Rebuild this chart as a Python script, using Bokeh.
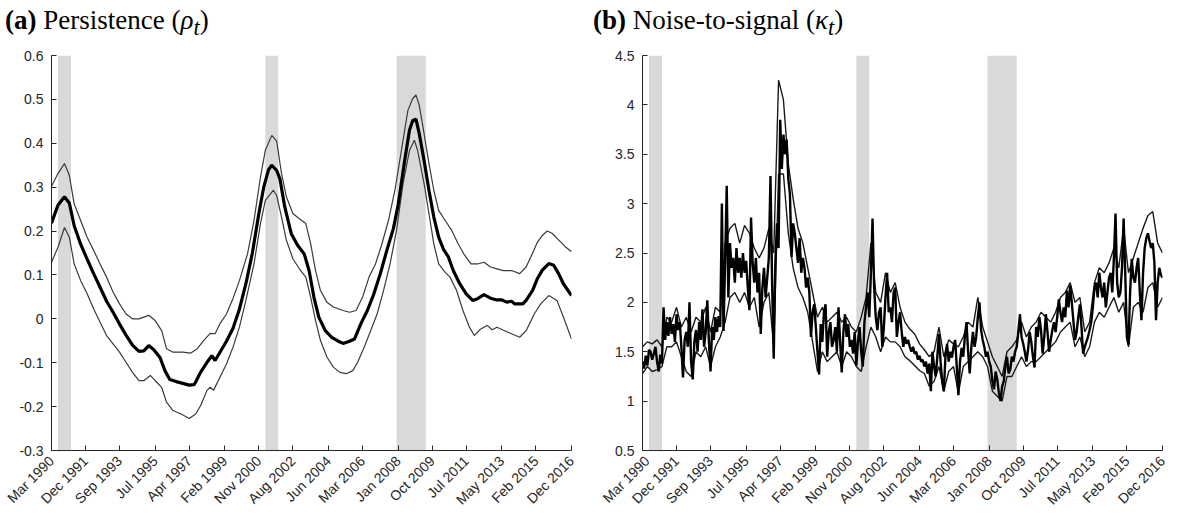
import math
from bokeh.plotting import figure
from bokeh.models import Range1d, FixedTicker, PrintfTickFormatter, BoxAnnotation, Div
from bokeh.layouts import row, column
from bokeh.embed import file_html
from bokeh.resources import INLINE

# ---------------- data ----------------
MONTH_NAMES = ["Jan", "Feb", "Mar", "Apr", "May", "Jun",
               "Jul", "Aug", "Sep", "Oct", "Nov", "Dec"]

tick_labels = ["Mar 1990", "Dec 1991", "Sep 1993", "Jul 1995", "Apr 1997",
               "Feb 1999", "Nov 2000", "Aug 2002", "Jun 2004", "Mar 2006",
               "Jan 2008", "Oct 2009", "Jul 2011", "May 2013", "Feb 2015",
               "Dec 2016"]

recessions = [("Jul 1990", "Mar 1991"), ("Mar 2001", "Nov 2001"),
              ("Dec 2007", "Jun 2009")]

rho_yticks = [-0.3, -0.2, -0.1, 0.0, 0.1, 0.2, 0.3, 0.4, 0.5, 0.6]
kappa_yticks = [0.5, 1.0, 1.5, 2.0, 2.5, 3.0, 3.5, 4.0, 4.5]

# months since Mar 1990
rho_mid_m = [0, 4, 8, 11, 14, 18, 22, 26, 30, 34, 38, 42, 46, 50, 54, 57, 60,
             63, 67, 70, 73, 77, 81, 85, 88, 89, 92, 96, 99, 101, 104, 108,
             112, 116, 120, 124, 128, 131, 134, 136, 139, 141, 144, 148, 152,
             156, 159, 162, 165, 169, 173, 177, 180, 184, 187, 191, 195, 199,
             203, 207, 211, 214, 218, 221, 223, 225, 227, 230, 233, 236, 239,
             242, 245, 248, 252, 256, 260, 263, 267, 271, 275, 278, 281, 284,
             286, 291, 293, 297, 300, 303, 307, 310, 313, 316, 321]
rho_mid = [0.218, 0.259, 0.278, 0.264, 0.212, 0.170, 0.136, 0.103, 0.072,
           0.040, 0.015, -0.012, -0.037, -0.060, -0.074, -0.073, -0.061,
           -0.070, -0.088, -0.118, -0.138, -0.143, -0.147, -0.151, -0.150,
           -0.144, -0.122, -0.099, -0.084, -0.095, -0.076, -0.051, -0.022,
           0.022, 0.080, 0.150, 0.240, 0.300, 0.340, 0.350, 0.338, 0.319,
           0.255, 0.194, 0.167, 0.148, 0.110, 0.049, 0.004, -0.027, -0.042,
           -0.051, -0.056, -0.051, -0.046, -0.011, 0.019, 0.057, 0.103, 0.156,
           0.205, 0.260, 0.360, 0.430, 0.452, 0.455, 0.422, 0.361, 0.293,
           0.232, 0.186, 0.158, 0.141, 0.110, 0.080, 0.057, 0.042, 0.046,
           0.055, 0.047, 0.043, 0.043, 0.038, 0.040, 0.034, 0.034, 0.042,
           0.065, 0.092, 0.111, 0.126, 0.122, 0.103, 0.080, 0.053]

rho_hi_m = [0, 4, 8, 11, 14, 18, 22, 26, 30, 34, 38, 42, 46, 50, 54, 60, 64,
            68, 71, 75, 81, 86, 90, 94, 98, 101, 104, 108, 112, 116, 121, 125,
            129, 132, 136, 139, 142, 145, 149, 153, 157, 160, 163, 166, 170,
            174, 180, 184, 188, 192, 196, 200, 204, 208, 212, 216, 220, 223,
            225, 227, 230, 233, 236, 239, 243, 247, 251, 255, 259, 263, 267,
            271, 275, 279, 284, 289, 293, 297, 300, 303, 306, 309, 313, 317,
            321]
rho_hi = [0.302, 0.331, 0.354, 0.327, 0.262, 0.224, 0.186, 0.156, 0.125,
          0.095, 0.061, 0.034, 0.011, 0.000, 0.000, 0.008, -0.004, -0.027,
          -0.068, -0.076, -0.076, -0.078, -0.068, -0.049, -0.033, -0.034,
          -0.011, 0.011, 0.046, 0.087, 0.148, 0.224, 0.323, 0.384, 0.418,
          0.405, 0.331, 0.278, 0.240, 0.228, 0.217, 0.171, 0.110, 0.065,
          0.038, 0.027, 0.019, 0.015, 0.019, 0.049, 0.095, 0.125, 0.171,
          0.224, 0.293, 0.384, 0.475, 0.502, 0.510, 0.487, 0.422, 0.354,
          0.293, 0.247, 0.224, 0.202, 0.171, 0.145, 0.125, 0.125, 0.129,
          0.118, 0.114, 0.110, 0.110, 0.103, 0.118, 0.150, 0.175, 0.190,
          0.200, 0.195, 0.180, 0.165, 0.153]

rho_lo_m = [0, 4, 8, 11, 14, 18, 22, 26, 30, 34, 38, 42, 46, 50, 54, 57, 61,
            64, 68, 71, 75, 80, 85, 89, 92, 96, 98, 100, 104, 108, 112, 116,
            120, 125, 129, 132, 137, 139, 142, 145, 149, 153, 157, 160, 163,
            166, 170, 174, 178, 182, 186, 189, 193, 197, 201, 205, 209, 213,
            217, 221, 224, 226, 230, 233, 236, 239, 243, 246, 250, 254, 258,
            261, 265, 269, 272, 275, 279, 284, 289, 293, 298, 302, 307, 312,
            316, 321]
rho_lo = [0.129, 0.163, 0.208, 0.186, 0.125, 0.087, 0.057, 0.023, -0.008,
          -0.038, -0.057, -0.076, -0.099, -0.122, -0.141, -0.141, -0.129,
          -0.141, -0.156, -0.190, -0.209, -0.217, -0.227, -0.217, -0.198,
          -0.163, -0.156, -0.163, -0.133, -0.103, -0.065, -0.019, 0.042,
          0.125, 0.217, 0.270, 0.293, 0.281, 0.232, 0.179, 0.137, 0.114,
          0.095, 0.049, -0.004, -0.049, -0.087, -0.110, -0.122, -0.125,
          -0.118, -0.099, -0.065, -0.027, 0.011, 0.065, 0.125, 0.202, 0.308,
          0.384, 0.407, 0.384, 0.308, 0.240, 0.171, 0.125, 0.106, 0.095,
          0.065, 0.019, -0.019, -0.038, -0.023, -0.015, -0.025, -0.019,
          -0.026, -0.034, -0.042, -0.027, 0.011, 0.034, 0.053, 0.042, 0.004,
          -0.046]

# noise-to-signal, monthly from Mar 1990
kappa_mid = [
    1.40, 1.33, 1.46, 1.36, 1.52, 1.50, 1.42, 1.48, 1.55, 1.40,
    1.30, 1.47, 1.38, 1.95, 1.62, 1.80, 1.66, 1.85, 1.68, 1.78,
    1.60, 1.88, 1.72, 1.80, 1.55, 1.24, 1.62, 1.70, 1.55, 2.00,
    1.40, 1.22, 1.60, 1.72, 1.50, 1.80, 1.62, 1.93, 1.55, 1.70,
    2.02, 1.60, 1.30, 1.75, 1.62, 1.85, 1.70, 1.86, 1.75, 3.00,
    1.71, 2.40, 3.18, 2.05, 2.60, 2.35, 2.45, 2.20, 2.55, 2.30,
    2.45, 2.25, 2.50, 2.30, 2.42, 2.15, 1.92, 2.86, 2.40, 2.20,
    2.45, 2.10, 2.30, 1.68, 2.15, 2.35, 2.05, 2.25, 2.45, 3.28,
    2.20, 1.43, 2.40, 2.80, 2.55, 3.85, 3.35, 3.70, 3.50, 3.65,
    3.25, 3.10, 2.46, 2.80, 2.70, 2.55, 2.40, 2.65, 2.30, 2.45,
    2.35, 2.15, 2.25, 2.10, 1.65, 1.90, 1.98, 1.75, 1.50, 1.27,
    1.78, 1.60, 1.90, 1.98, 1.45, 1.70, 1.80, 1.55, 1.62, 1.75,
    1.50, 1.95, 1.60, 1.29, 1.70, 1.88, 1.65, 1.78, 1.55, 1.62,
    1.48, 1.70, 1.36, 1.60, 1.75, 1.50, 1.35, 1.80, 1.95, 2.10,
    1.85, 2.30, 2.85, 2.15, 1.85, 1.72, 1.90, 1.95, 1.55, 1.75,
    2.05, 2.30, 1.90, 1.95, 1.80, 2.10, 2.15, 1.65, 1.80, 1.90,
    1.70, 1.55, 1.65, 1.58, 1.62, 1.55, 1.50, 1.55, 1.48, 1.50,
    1.42, 1.46, 1.40, 1.42, 1.35, 1.40, 1.28, 1.38, 1.10, 1.50,
    1.35, 1.25, 1.45, 1.68, 1.40, 1.20, 1.10, 1.45, 1.58, 1.40,
    1.50, 1.44, 1.55, 1.62, 1.35, 1.06, 1.40, 1.54, 1.45, 1.65,
    1.80, 1.50, 1.28, 1.55, 1.70, 1.55, 1.65, 1.85, 2.00, 1.72,
    1.62, 1.55, 1.45, 1.50, 1.40, 1.35, 1.20, 1.12, 1.30, 1.22,
    1.08, 1.00, 1.15, 1.20, 1.35, 1.45, 1.28, 1.32, 1.45, 1.40,
    1.50, 1.55, 1.70, 1.88, 1.65, 1.58, 1.50, 1.40, 1.52, 1.70,
    1.60, 1.45, 1.34, 1.75, 1.65, 1.85, 1.72, 1.48, 1.65, 1.88,
    1.70, 1.50, 1.62, 1.72, 1.80, 1.70, 1.85, 2.03, 1.90, 1.80,
    1.95, 1.85, 2.12, 1.95, 2.17, 2.00, 1.81, 1.62, 1.70, 1.85,
    1.98, 1.75, 1.48, 1.55, 1.60, 1.65, 1.72, 1.80, 1.95, 2.15,
    2.20, 2.05, 2.30, 2.15, 2.05, 2.20, 1.95, 2.10, 2.25, 2.30,
    2.10, 2.45, 2.90, 2.20, 2.05, 2.10, 2.35, 2.85, 2.30, 1.65,
    1.57, 2.10, 2.44, 2.25, 2.20, 2.35, 2.45, 2.10, 1.82, 2.30,
    2.55, 2.65, 2.70, 2.62, 2.55, 2.60, 2.40, 1.82, 2.20, 2.35,
    2.28, 2.25]

# upper / lower bands, every third month from Mar 1990
kappa_hi = [
    1.55, 1.60, 1.58, 1.62, 1.55, 1.85, 1.80, 1.95, 1.75, 1.85, 1.70, 1.85,
    1.80, 1.95, 1.70, 1.95, 1.90, 2.60, 2.75, 2.80, 2.60, 2.78, 2.70, 2.55,
    2.45, 2.55, 2.75, 2.50, 4.25, 4.05, 3.40, 3.05, 2.75, 2.60, 2.35, 2.10,
    1.85, 1.95, 1.80, 1.85, 1.90, 1.80, 1.85, 1.75, 1.70, 1.85, 2.05, 2.60,
    2.10, 2.00, 2.30, 2.10, 2.20, 1.95, 1.80, 1.73, 1.68, 1.58, 1.52, 1.45,
    1.50, 1.75, 1.45, 1.62, 1.58, 1.55, 1.65, 1.80, 1.75, 2.05, 1.75, 1.60,
    1.45, 1.35, 1.25, 1.50, 1.55, 1.62, 1.80, 1.65, 1.75, 1.80, 1.90, 1.85,
    1.80, 1.90, 2.05, 2.10, 2.20, 2.00, 2.05, 1.70, 1.80, 2.20, 2.35, 2.30,
    2.40, 2.55, 2.35, 2.75, 2.30, 2.45, 2.60, 2.75, 2.88, 2.92, 2.60, 2.50]
kappa_lo = [
    1.28, 1.35, 1.30, 1.32, 1.35, 1.55, 1.55, 1.60, 1.45, 1.30, 1.25, 1.50,
    1.45, 1.55, 1.35, 1.55, 1.65, 1.80, 2.05, 2.10, 2.00, 2.10, 1.95, 2.05,
    1.75, 2.00, 2.10, 1.55, 3.30, 3.30, 2.70, 2.35, 2.15, 2.05, 1.90, 1.60,
    1.30, 1.50, 1.40, 1.45, 1.50, 1.35, 1.50, 1.45, 1.35, 1.30, 1.55, 1.75,
    1.65, 1.50, 1.65, 1.60, 1.60, 1.55, 1.45, 1.41, 1.36, 1.31, 1.28, 1.15,
    1.20, 1.35, 1.10, 1.30, 1.35, 1.08, 1.35, 1.40, 1.45, 1.50, 1.45, 1.35,
    1.10, 1.05, 1.00, 1.25, 1.25, 1.35, 1.45, 1.35, 1.40, 1.40, 1.45, 1.50,
    1.55, 1.60, 1.70, 1.75, 1.80, 1.55, 1.65, 1.45, 1.55, 1.80, 1.90, 1.85,
    1.95, 2.05, 1.90, 2.00, 1.55, 1.95, 2.00, 1.90, 2.15, 2.20, 1.95, 2.05]


def month_index(label):
    mon, yr = label.split()
    return (int(yr) - 1990) * 12 + MONTH_NAMES.index(mon) - 2


tick_pos = [month_index(l) for l in tick_labels]
kappa_mid_m = list(range(len(kappa_mid)))
kappa_band_m = list(range(0, 3 * len(kappa_hi), 3))

AX = "#262626"


def make_fig(width, ylo, yhi, yticks, min_left, min_right):
    p = figure(width=width, height=468, output_backend="svg",
               toolbar_location=None, x_range=Range1d(tick_pos[0], tick_pos[-1]),
               y_range=Range1d(ylo, yhi), min_border_left=min_left,
               min_border_right=min_right, min_border_top=7,
               min_border_bottom=66)
    p.grid.visible = False
    p.outline_line_color = None
    p.background_fill_color = "white"
    p.border_fill_color = "white"
    for s, e in recessions:
        p.add_layout(BoxAnnotation(left=month_index(s), right=month_index(e),
                                   fill_color="#d9d9d9", fill_alpha=1.0,
                                   line_color=None, level="underlay"))
    p.xaxis.ticker = FixedTicker(ticks=tick_pos)
    p.xaxis.major_label_overrides = {t: l for t, l in zip(tick_pos, tick_labels)}
    p.xaxis.major_label_orientation = math.pi / 4
    p.yaxis.ticker = FixedTicker(ticks=yticks)
    p.yaxis.formatter = PrintfTickFormatter(format="%g")
    for ax in (p.xaxis[0], p.yaxis[0]):
        ax.axis_line_color = AX
        ax.axis_line_width = 1
        ax.major_tick_line_color = AX
        ax.major_tick_in = 5
        ax.major_tick_out = 0
        ax.minor_tick_line_color = None
        ax.major_label_text_font = "Liberation Sans"
        ax.major_label_text_font_size = "14px"
        ax.major_label_text_color = AX
        ax.major_label_standoff = 8
    return p


p1 = make_fig(599, -0.3, 0.6, rho_yticks, 51, 28)
p1.line(rho_hi_m, rho_hi, line_color="#3a3a3a", line_width=1.2)
p1.line(rho_lo_m, rho_lo, line_color="#3a3a3a", line_width=1.2)
p1.line(rho_mid_m, rho_mid, line_color="black", line_width=3.2)

p2 = make_fig(573, 0.5, 4.5, kappa_yticks, 43, 10)
p2.line(kappa_band_m, kappa_hi, line_color="#1a1a1a", line_width=1.4)
p2.line(kappa_band_m, kappa_lo, line_color="#1a1a1a", line_width=1.4)
p2.line(kappa_mid_m, kappa_mid, line_color="black", line_width=2.4)

TSTYLE = ("font-family:'Liberation Serif',serif;font-size:27px;color:#000;"
          "white-space:nowrap;line-height:30px;padding-top:5px;")
div_a = Div(text=f"<div style=\"{TSTYLE}padding-left:5px;\"><b>(a)</b> Persistence "
                 "(<i>&rho;</i><sub><i>t</i></sub>)</div>",
            width=599, height=48, margin=(0, 0, 0, 0))
div_b = Div(text=f"<div style=\"{TSTYLE}margin-left:-6px;\"><b>(b)</b> Noise-to-signal "
                 "(<i>&kappa;</i><sub><i>t</i></sub>)</div>",
            width=573, height=48, margin=(0, 0, 0, 0))

layout = row(column(div_a, p1), column(div_b, p2))

with open("out.html", "w") as f:
    f.write(file_html(layout, INLINE))
